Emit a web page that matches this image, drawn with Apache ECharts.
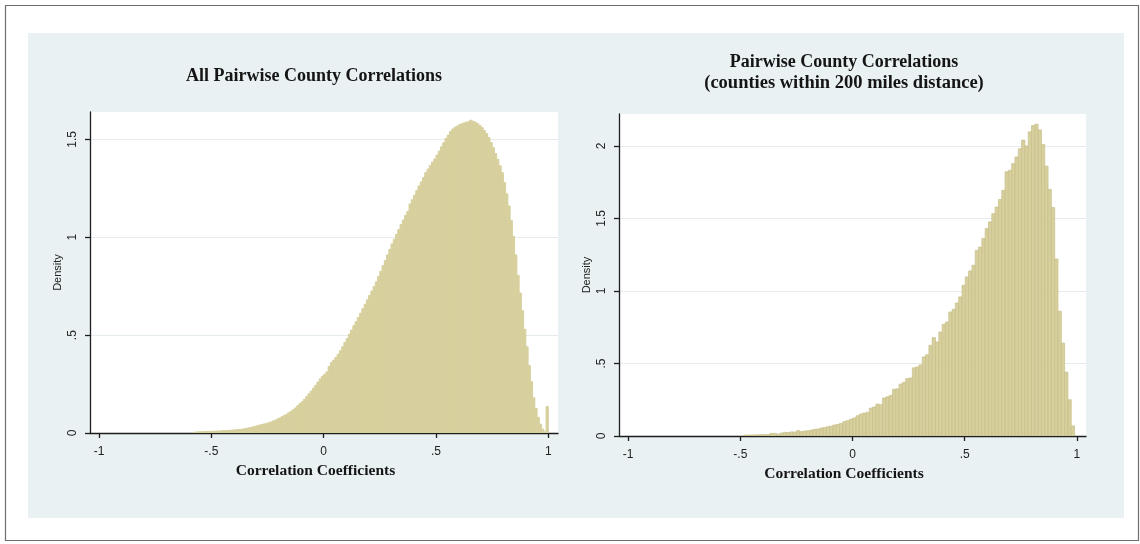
<!DOCTYPE html>
<html>
<head>
<meta charset="utf-8">
<script src="https://cdn.jsdelivr.net/npm/echarts@6/dist/echarts.min.js"></script>
<style>
  html, body { margin: 0; padding: 0; background: #ffffff; }
  #chart { width: 1140px; height: 544px; }
</style>
</head>
<body>
<div id="chart"></div>
<script>
// Axis ticks and their printed labels (leading zeros dropped)
const xTickValues = [-1, -0.5, 0, 0.5, 1];
const xTickLabels = ['-1', '-.5', '0', '.5', '1'];
const yTickValues = [0, 0.5, 1, 1.5, 2];
const yTickLabels = ['0', '.5', '1', '1.5', '2'];

// Panel titles and axis titles
const leftTitle = 'All Pairwise County Correlations';
const rightTitle = ['Pairwise County Correlations', '(counties within 200 miles distance)'];
const xTitle = 'Correlation Coefficients';
const yTitle = 'Density';

// All pairwise county correlations: density per bin, bins of width 0.01 starting at -0.58
const leftBinStart = -0.58;
const leftBinWidth = 0.01;
const leftDensity = [
  0.004, 0.005, 0.006, 0.006, 0.007, 0.007, 0.008, 0.008,
  0.009, 0.009, 0.010, 0.010, 0.011, 0.012, 0.012, 0.013, 0.014, 0.015,
  0.016, 0.017, 0.018, 0.019, 0.021, 0.023, 0.026, 0.028, 0.031, 0.034,
  0.037, 0.040, 0.043, 0.046, 0.049, 0.052, 0.056, 0.061, 0.065, 0.071,
  0.077, 0.083, 0.089, 0.095, 0.103, 0.111, 0.119, 0.128, 0.139, 0.150,
  0.160, 0.172, 0.186, 0.200, 0.214, 0.229, 0.244, 0.260, 0.276, 0.290,
  0.300, 0.312, 0.340, 0.360, 0.372, 0.386, 0.402, 0.420, 0.440, 0.462,
  0.483, 0.505, 0.526, 0.548, 0.569, 0.590, 0.612, 0.635, 0.657, 0.680,
  0.703, 0.725, 0.748, 0.772, 0.800, 0.826, 0.855, 0.882, 0.910, 0.938,
  0.966, 0.990, 1.015, 1.040, 1.065, 1.088, 1.112, 1.132, 1.170, 1.192,
  1.215, 1.238, 1.262, 1.283, 1.305, 1.330, 1.348, 1.366, 1.384, 1.400,
  1.420, 1.440, 1.462, 1.483, 1.505, 1.522, 1.540, 1.553, 1.562, 1.568,
  1.575, 1.580, 1.584, 1.588, 1.590, 1.598, 1.593, 1.588, 1.580, 1.572,
  1.560, 1.545, 1.530, 1.510, 1.484, 1.458, 1.428, 1.398, 1.365, 1.330,
  1.280, 1.222, 1.160, 1.085, 1.005, 0.910, 0.805, 0.715, 0.625, 0.530,
  0.440, 0.345, 0.262, 0.180, 0.125, 0.080, 0.045, 0.020, 0.006, 0.135
];

// Counties within 200 miles: density per bin, 100 bins of width 0.01476 starting at -0.486
const rightBinStart = -0.486;
const rightBinWidth = 0.01476;
const rightDensity = [
  0.006, 0.007, 0.007, 0.008, 0.008, 0.009, 0.009, 0.010, 0.018, 0.018,
  0.012, 0.020, 0.025, 0.024, 0.028, 0.027, 0.037, 0.030, 0.034, 0.036,
  0.040, 0.046, 0.048, 0.055, 0.058, 0.064, 0.068, 0.076, 0.080, 0.087,
  0.099, 0.106, 0.116, 0.124, 0.140, 0.152, 0.158, 0.163, 0.192, 0.200,
  0.220, 0.216, 0.262, 0.270, 0.280, 0.322, 0.325, 0.358, 0.370, 0.395,
  0.400, 0.470, 0.476, 0.490, 0.545, 0.560, 0.625, 0.678, 0.648, 0.717,
  0.770, 0.786, 0.855, 0.873, 0.917, 0.959, 1.039, 1.097, 1.138, 1.177,
  1.280, 1.303, 1.361, 1.430, 1.476, 1.533, 1.579, 1.630, 1.694, 1.821,
  1.832, 1.878, 1.924, 1.980, 2.040, 2.000, 2.097, 2.140, 2.150, 2.110,
  2.010, 1.860, 1.700, 1.575, 1.220, 0.860, 0.640, 0.440, 0.250, 0.070
];

// Turn a list of densities into [binStart, binEnd, density] rows
function toBins(start, width, values) {
  return values.map((v, i) => [start + i * width, start + (i + 1) * width, v]);
}

const BAR_FILL = '#d7d09e';
const BAR_EDGE = '#c7bf88';
const AXIS_COLOR = '#1e1e1e';
const GRID_LINE = '#e4ecee';
const PANEL_BG = '#e9f1f3';

// One rectangle per bin, placed through the axis scales
function barRenderer(fill, stroke, lineWidth) {
  return function (params, api) {
    const p0 = api.coord([api.value(0), api.value(2)]);
    const p1 = api.coord([api.value(1), 0]);
    return {
      type: 'rect',
      shape: { x: p0[0], y: p0[1], width: p1[0] - p0[0], height: p1[1] - p0[1] },
      style: { fill: fill, stroke: stroke, lineWidth: lineWidth }
    };
  };
}

function xAxisFor(gridIndex, min, max) {
  return {
    type: 'value', gridIndex: gridIndex, min: min, max: max,
    name: xTitle, nameLocation: 'middle', nameGap: 30,
    nameTextStyle: {
      fontFamily: 'Liberation Serif', fontWeight: 'bold', fontSize: 15.5, color: '#151515',
      padding: [0, 17, 0, 0]
    },
    axisLine: { onZero: false, lineStyle: { color: AXIS_COLOR, width: 1.3 } },
    axisTick: { show: true, customValues: xTickValues, length: 5, lineStyle: { color: AXIS_COLOR, width: 1.3 } },
    axisLabel: {
      customValues: xTickValues, margin: 13,
      formatter: v => xTickLabels[xTickValues.indexOf(v)],
      fontFamily: 'Liberation Sans', fontSize: 12, color: '#222'
    },
    splitLine: { show: false }
  };
}

function yAxisFor(gridIndex, max, ticks) {
  return {
    type: 'value', gridIndex: gridIndex, min: 0, max: max, interval: 0.5,
    name: yTitle, nameLocation: 'middle', nameRotate: 90, nameGap: 27,
    nameTextStyle: { fontFamily: 'Liberation Sans', fontSize: 11, color: '#222' },
    axisLine: { show: true, onZero: false, lineStyle: { color: AXIS_COLOR, width: 1.3 } },
    axisTick: { show: true, customValues: ticks, length: 5, lineStyle: { color: AXIS_COLOR, width: 1.3 } },
    axisLabel: {
      customValues: ticks, rotate: 90, margin: 11,
      formatter: v => yTickLabels[yTickValues.indexOf(v)],
      fontFamily: 'Liberation Sans', fontSize: 12, color: '#222'
    },
    splitLine: { show: true, lineStyle: { color: GRID_LINE, width: 1 } }
  };
}

const titleStyle = {
  fontFamily: 'Liberation Serif', fontWeight: 'bold', fontSize: 18,
  fill: '#151515', align: 'center', verticalAlign: 'middle'
};

const chart = echarts.init(document.getElementById('chart'), null, { renderer: 'canvas' });

chart.setOption({
  backgroundColor: '#ffffff',
  animation: false,
  graphic: [
    { type: 'rect', z: -20, shape: { x: 5.5, y: 5.5, width: 1133, height: 535 },
      style: { fill: '#ffffff', stroke: '#6e6e6e', lineWidth: 1.2 } },
    { type: 'rect', z: -10, shape: { x: 28, y: 33, width: 1096, height: 485 },
      style: { fill: PANEL_BG } },
    { type: 'text', z: 10, x: 314, y: 76, style: Object.assign({ text: leftTitle }, titleStyle) },
    { type: 'text', z: 10, x: 844, y: 62, style: Object.assign({ text: rightTitle[0] }, titleStyle) },
    { type: 'text', z: 10, x: 844, y: 83, style: Object.assign({ text: rightTitle[1] }, titleStyle, { fontSize: 18.5 }) }
  ],
  grid: [
    { left: 90, top: 112, width: 468, height: 321, show: true, backgroundColor: '#ffffff', borderWidth: 0 },
    { left: 619, top: 114, width: 467, height: 322, show: true, backgroundColor: '#ffffff', borderWidth: 0 }
  ],
  xAxis: [xAxisFor(0, -1.04, 1.043), xAxisFor(1, -1.041, 1.041)],
  yAxis: [yAxisFor(0, 1.64, [0, 0.5, 1, 1.5]), yAxisFor(1, 2.22, [0, 0.5, 1, 1.5, 2])],
  series: [
    {
      type: 'custom', xAxisIndex: 0, yAxisIndex: 0, silent: true, clip: true,
      renderItem: barRenderer(BAR_FILL, BAR_FILL, 1),
      encode: { x: [0, 1], y: 2 },
      data: toBins(leftBinStart, leftBinWidth, leftDensity)
    },
    {
      type: 'custom', xAxisIndex: 1, yAxisIndex: 1, silent: true, clip: true,
      renderItem: barRenderer(BAR_FILL, BAR_EDGE, 0.7),
      encode: { x: [0, 1], y: 2 },
      data: toBins(rightBinStart, rightBinWidth, rightDensity)
    }
  ]
});
</script>
</body>
</html>
